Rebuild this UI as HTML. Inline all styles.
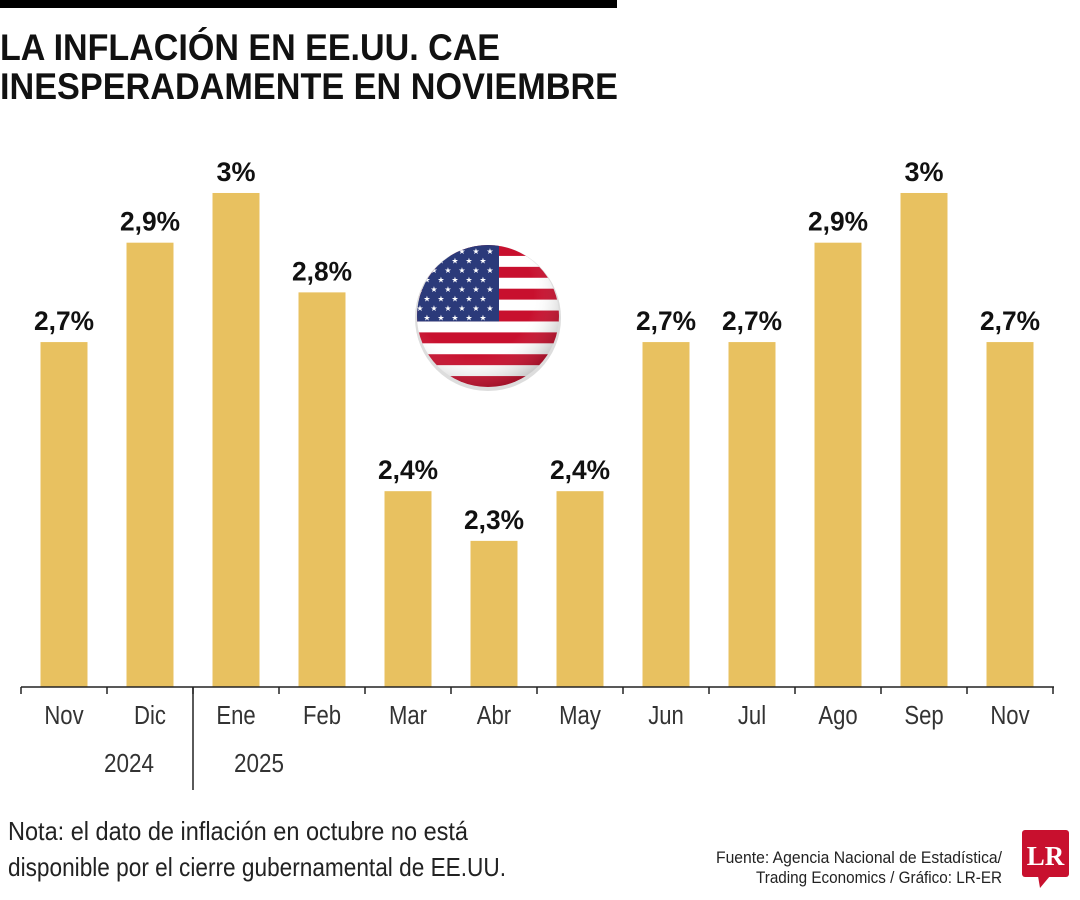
<!DOCTYPE html>
<html><head><meta charset="utf-8"><style>
body{margin:0;background:#fff;}
svg{display:block;font-family:"Liberation Sans Narrow","Liberation Sans",sans-serif;}
</style></head><body>
<svg id="chart" width="1080" height="900" viewBox="0 0 1080 900">
<defs>
<clipPath id="fc"><circle cx="488" cy="316" r="71"/></clipPath>
<radialGradient id="shade" cx="0.4" cy="0.35" r="0.7"><stop offset="0.6" stop-color="#fff" stop-opacity="0"/><stop offset="1" stop-color="#000" stop-opacity="0.25"/></radialGradient>
</defs>
<rect x="0" y="0" width="617" height="8" fill="#000"/>
<text font-weight="bold" font-size="37" fill="#111"><tspan x="0" y="60" textLength="500" lengthAdjust="spacingAndGlyphs">LA INFLACIÓN EN EE.UU. CAE</tspan><tspan x="0" y="99" textLength="618" lengthAdjust="spacingAndGlyphs">INESPERADAMENTE EN NOVIEMBRE</tspan></text>
<g id="bars"></g>
<g>
<circle cx="488" cy="318" r="73" fill="#ddd"/>
<g clip-path="url(#fc)" id="flag"></g>
<circle cx="488" cy="316" r="71" fill="url(#shade)"/>
</g>
<line x1="193" y1="687" x2="193" y2="790" stroke="#222" stroke-width="1.5"/>
<text x="129" y="772" font-size="26" fill="#333" text-anchor="middle" textLength="50" lengthAdjust="spacingAndGlyphs">2024</text>
<text x="259" y="772" font-size="26" fill="#333" text-anchor="middle" textLength="50" lengthAdjust="spacingAndGlyphs">2025</text>
<text font-size="26" fill="#222"><tspan x="8" y="840" textLength="460" lengthAdjust="spacingAndGlyphs">Nota: el dato de inflación en octubre no está</tspan><tspan x="8" y="876" textLength="498" lengthAdjust="spacingAndGlyphs">disponible por el cierre gubernamental de EE.UU.</tspan></text>
<text font-size="17" fill="#222"><tspan x="716" y="863" textLength="286" lengthAdjust="spacingAndGlyphs">Fuente: Agencia Nacional de Estadística/</tspan><tspan x="756" y="883" textLength="246" lengthAdjust="spacingAndGlyphs">Trading Economics / Gráfico: LR-ER</tspan></text>
<g>
<rect x="1022" y="830" width="47" height="47" rx="3" fill="#c8102e"/>
<polygon points="1038,876 1050,876 1040,888" fill="#c8102e"/>
<text x="1045.5" y="865" font-family="Liberation Serif,serif" font-weight="bold" font-size="27" fill="#fff" text-anchor="middle">LR</text>
</g>
</svg>
<script>
const categories=["Nov","Dic","Ene","Feb","Mar","Abr","May","Jun","Jul","Ago","Sep","Nov"];
const values=[2.7,2.9,3.0,2.8,2.4,2.3,2.4,2.7,2.7,2.9,3.0,2.7];
const valueLabels=["2,7%","2,9%","3%","2,8%","2,4%","2,3%","2,4%","2,7%","2,7%","2,9%","3%","2,7%"];
(function(){
const NS="http://www.w3.org/2000/svg";
const x0=21,step=86,bw=47,base=687,vmin=2.006,pxPer=497;
const yS=v=>base-(v-vmin)*pxPer;
const g=document.getElementById('bars');
function mk(t,a){const e=document.createElementNS(NS,t);for(const k in a)e.setAttribute(k,a[k]);return e;}
categories.forEach((c,i)=>{
 const cx=x0+step*i+step/2;
 const r=mk('rect',{x:cx-bw/2,y:yS(values[i]),width:bw,height:base-yS(values[i]),fill:'#e8c160'});
 
 
 g.appendChild(r);
 const t=mk('text',{x:cx,y:yS(values[i])-12,'font-size':27,'font-weight':'bold','text-anchor':'middle',fill:'#111'});
 
 
 if(valueLabels[i].length>2){t.setAttribute('textLength',60);t.setAttribute('lengthAdjust','spacingAndGlyphs');}
 t.textContent=valueLabels[i];g.appendChild(t);
 const l=mk('text',{x:cx,y:724,'font-size':26,'text-anchor':'middle',fill:'#333',transform:'translate('+cx+',0) scale(0.85,1) translate('+(-cx)+',0)'});
 
 
 l.textContent=c;g.appendChild(l);
});
const ax=mk('line',{x1:x0,y1:base,x2:x0+step*categories.length+1,y2:base,stroke:'#222','stroke-width':1.5});


g.appendChild(ax);
for(let i=0;i<=categories.length;i++){
 const tk=mk('line',{x1:x0+step*i,y1:base,x2:x0+step*i,y2:base+7,stroke:'#222','stroke-width':1.5});
 
 
 g.appendChild(tk);
}
const f=document.getElementById('flag');
const fTop=245,h=142,sh=h/13;
for(let s=0;s<13;s++){f.appendChild(mk('rect',{x:410,y:fTop+s*sh,width:160,height:sh+0.5,fill:s%2?'#fff':'#c8102e'}));}
f.appendChild(mk('rect',{x:410,y:fTop,width:89,height:sh*7,fill:'#2b3a7a'}));
for(let r=0;r<9;r++){const n=r%2?5:6;for(let k=0;k<n;k++){
 const sx=420+k*14+(r%2?7:0),sy=fTop+6+r*9.5;
 const st=mk('text',{x:sx,y:sy+3,'font-size':8,fill:'#fff','text-anchor':'middle'});st.textContent='★';f.appendChild(st);}}
})();
</script>
</body></html>
